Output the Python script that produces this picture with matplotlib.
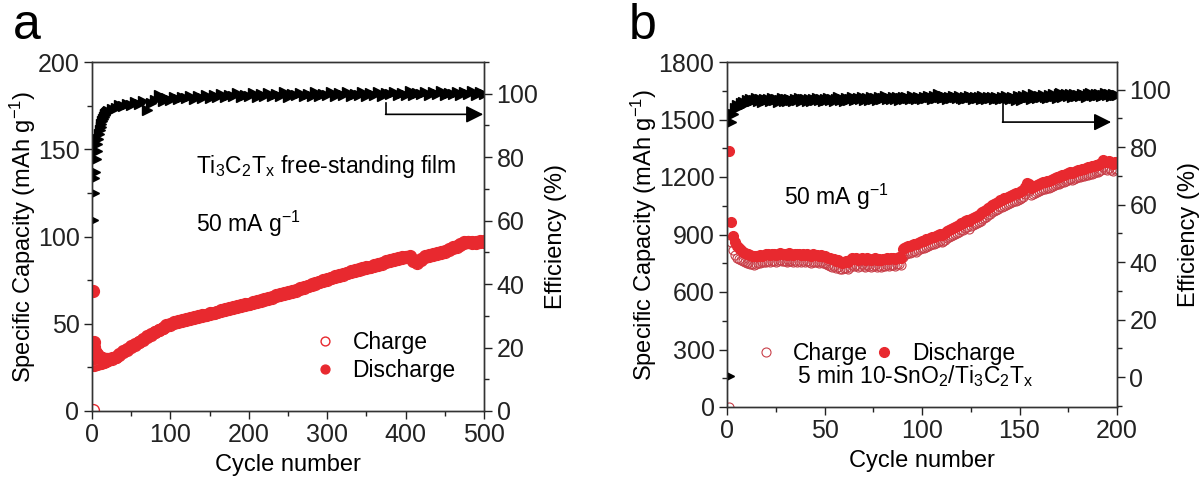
import numpy as np
import matplotlib
matplotlib.use('Agg')
import matplotlib.pyplot as plt
from matplotlib.ticker import MultipleLocator

plt.rcParams['font.family'] = ['Liberation Sans', 'DejaVu Sans']
plt.rcParams['mathtext.fontset'] = 'custom'
plt.rcParams['mathtext.rm'] = 'Liberation Sans'
plt.rcParams['mathtext.it'] = 'Liberation Sans:italic'

# ---------------- panel a: Ti3C2Tx free-standing film ----------------
cyc_a = list(range(1, 21)) + list(range(25, 501, 5))

dis_a = [68.8, 39.5, 36.5, 34.5, 33.5, 32.8, 32.2, 31.6, 31.2, 30.9,
         30.6, 30.4, 30.2, 30.0, 29.9, 29.8, 29.8, 29.8, 29.9, 30.0,
         30.4, 31.2, 32.6, 34.2, 35.6, 37.0, 38.4, 39.8, 41.4, 42.8,
         44.2, 45.5, 46.7, 47.8, 49.0, 50.0, 50.8, 51.5, 52.0, 52.6,
         53.2, 53.6, 54.2, 54.8, 55.3, 55.9, 56.4, 57.0, 57.6, 58.3,
         59.0, 59.6, 60.1, 60.6, 61.1, 61.6, 62.2, 62.8, 63.5, 64.2,
         64.8, 65.4, 66.2, 66.9, 67.5, 68.1, 68.7, 69.4, 70.3, 71.1,
         71.9, 72.7, 73.4, 74.2, 74.9, 75.7, 76.5, 77.2, 77.9, 78.6,
         79.3, 80.0, 80.7, 81.3, 81.8, 82.3, 82.8, 83.4, 84.2, 84.9,
         85.7, 86.5, 87.2, 87.8, 88.2, 88.5, 88.6, 86.3, 85.3, 87.1,
         88.7, 89.4, 90.1, 90.7, 91.2, 91.9, 92.7, 93.7, 94.7, 95.7,
         96.7, 97.1, 96.9, 97.0, 97.2, 97.4]

chg_a = [0.5, 26.5, 26.8, 27.0, 27.1, 27.2, 27.3, 27.4, 27.5, 27.6,
         27.7, 27.8, 27.9, 28.0, 28.2, 28.4, 28.6, 28.8, 29.0, 29.3,
         29.9, 30.7, 32.0, 33.7, 35.1, 36.5, 37.9, 39.3, 40.9, 42.3,
         43.7, 45.0, 46.2, 47.3, 48.5, 49.5, 50.3, 51.0, 51.5, 52.1,
         52.7, 53.1, 53.7, 54.3, 54.8, 55.4, 55.9, 56.5, 57.1, 57.8,
         58.5, 59.1, 59.6, 60.1, 60.6, 61.1, 61.7, 62.3, 63.0, 63.7,
         64.3, 64.9, 65.7, 66.4, 67.0, 67.6, 68.2, 68.9, 69.8, 70.6,
         71.4, 72.2, 72.9, 73.7, 74.4, 75.2, 76.0, 76.7, 77.4, 78.1,
         78.8, 79.5, 80.2, 80.8, 81.3, 81.8, 82.3, 82.9, 83.7, 84.4,
         85.2, 86.0, 86.7, 87.3, 87.7, 88.0, 88.1, 85.8, 84.8, 86.6,
         88.2, 88.9, 89.6, 90.2, 90.7, 91.4, 92.2, 93.2, 94.2, 95.2,
         96.2, 96.6, 96.4, 96.5, 96.7, 96.9]

eff_a = [60.3, 68.8, 73.5, 75.4, 79.5, 82.0, 84.0, 85.8, 87.3, 88.5,
         89.6, 90.5, 91.3, 92.0, 92.6, 93.2, 93.6, 94.0, 94.3, 94.6,
         95.3, 95.5, 96.4, 96.0, 96.9, 96.4, 97.4, 96.8, 97.6, 95.0,
         97.2, 98.1, 99.6, 97.7, 98.6, 98.0, 99.0, 98.2, 99.1, 98.5,
         99.3, 98.4, 99.4, 98.7, 99.6, 98.8, 99.5, 98.9, 99.8, 99.0,
         99.6, 99.2, 100.1, 99.0, 99.7, 99.3, 100.2, 99.1, 99.8, 99.4,
         100.3, 99.2, 99.9, 99.3, 100.4, 99.1, 99.8, 99.5, 100.3, 99.2,
         100.0, 99.4, 100.5, 99.3, 99.9, 99.6, 100.4, 99.2, 100.1, 99.5,
         100.6, 99.3, 100.0, 99.7, 100.5, 99.4, 100.2, 99.6, 100.7, 99.4,
         100.1, 99.8, 100.6, 99.5, 100.3, 99.7, 100.8, 99.5, 100.2, 99.9,
         100.6, 99.6, 100.4, 99.8, 100.9, 99.6, 100.3, 99.9, 100.7, 99.7,
         100.5, 99.8, 100.9, 99.7, 100.4, 100.0]

# ---------------- panel b: 5 min 10-SnO2/Ti3C2Tx ----------------
cyc_b = list(range(1, 201))

dis_b = [1336, 965, 892, 860, 842, 830, 818, 810, 805, 800,
         796, 792, 790, 788, 786, 790, 792, 789, 794, 796,
         798, 795, 800, 797, 793, 799, 802, 796, 800, 798,
         795, 801, 797, 794, 799, 796, 800, 793, 797, 795,
         798, 794, 790, 796, 792, 795, 789, 793, 790, 788,
         785, 780, 776, 770, 772, 760, 765, 755, 752, 758,
         762, 756, 768, 775, 770, 778, 765, 772, 780, 774,
         769, 776, 770, 765, 773, 778, 768, 772, 767, 774,
         770, 776, 772, 779, 775, 771, 780, 784, 778, 822,
         830, 835, 840, 838, 845, 850, 848, 856, 862, 868,
         866, 874, 878, 882, 888, 885, 893, 900, 905, 897,
         902, 910, 918, 922, 930, 936, 940, 946, 950, 958,
         962, 970, 975, 968, 980, 986, 992, 998, 1003, 1010,
         1018, 1025, 1030, 1040, 1046, 1052, 1058, 1065, 1070, 1078,
         1082, 1088, 1092, 1096, 1100, 1105, 1110, 1114, 1118, 1122,
         1126, 1132, 1150, 1168, 1162, 1145, 1150, 1155, 1160, 1164,
         1168, 1172, 1176, 1180, 1178, 1185, 1190, 1195, 1198, 1202,
         1206, 1210, 1212, 1216, 1220, 1224, 1222, 1228, 1232, 1236,
         1238, 1242, 1240, 1246, 1250, 1252, 1255, 1258, 1262, 1265,
         1268, 1272, 1290, 1280, 1276, 1283, 1275, 1270, 1280, 1278]

chg_b = [0, 860, 820, 792, 780, 772, 765, 760, 756, 752,
         750, 748, 745, 742, 748, 752, 750, 755, 757, 759,
         762, 758, 764, 760, 757, 763, 766, 760, 763, 761,
         758, 764, 760, 757, 762, 759, 763, 756, 760, 758,
         761, 757, 753, 759, 755, 758, 752, 756, 753, 750,
         747, 742, 738, 733, 735, 724, 728, 720, 718, 723,
         727, 721, 732, 739, 734, 742, 729, 736, 744, 738,
         733, 740, 734, 729, 737, 742, 732, 736, 731, 738,
         734, 740, 736, 743, 739, 735, 744, 748, 742, 785,
         793, 798, 803, 801, 808, 813, 811, 819, 825, 831,
         829, 837, 841, 845, 851, 848, 856, 863, 868, 860,
         865, 873, 881, 885, 893, 899, 903, 909, 913, 921,
         925, 933, 938, 931, 943, 949, 955, 961, 966, 973,
         981, 988, 993, 1003, 1009, 1015, 1021, 1028, 1033, 1041,
         1045, 1051, 1055, 1059, 1063, 1068, 1073, 1077, 1081, 1085,
         1089, 1095, 1112, 1130, 1125, 1108, 1113, 1118, 1123, 1127,
         1131, 1135, 1139, 1143, 1141, 1148, 1153, 1158, 1161, 1165,
         1169, 1173, 1175, 1179, 1183, 1187, 1185, 1191, 1195, 1199,
         1201, 1205, 1203, 1209, 1213, 1215, 1218, 1221, 1225, 1228,
         1231, 1235, 1252, 1243, 1239, 1246, 1238, 1233, 1243, 1241]

eff_b = [0.3, 88.7, 91.5, 93.5, 94.5, 93.8, 95.2, 95.8, 94.9, 96.3,
         95.6, 96.8, 95.9, 96.5, 97.1, 96.0, 96.7, 95.8, 96.9, 96.3,
         96.6, 95.9, 97.0, 96.4, 96.8, 95.8, 96.5, 97.1, 96.2, 96.7,
         96.0, 96.9, 96.4, 95.9, 96.8, 96.3, 97.0, 96.1, 96.6, 96.9,
         96.2, 96.7, 96.0, 96.8, 96.4, 97.1, 96.3, 96.6, 95.9, 96.8,
         96.5, 97.2, 96.3, 96.9, 96.1, 96.7, 97.3, 96.4, 96.8, 96.2,
         97.0, 96.5, 96.9, 97.4, 96.3, 96.8, 97.1, 96.6, 97.5, 96.4,
         96.9, 97.2, 96.5, 97.6, 96.8, 97.0, 96.3, 97.4, 96.7, 97.1,
         97.7, 96.6, 97.2, 96.9, 97.5, 96.8, 97.3, 96.5, 97.0, 97.6,
         96.9, 97.4, 97.0, 96.7, 97.8, 97.1, 96.8, 97.5, 97.2, 96.9,
         97.6, 97.0, 97.9, 97.3, 96.9, 97.7, 97.2, 98.6, 97.4, 97.0,
         97.8, 97.3, 96.8, 97.6, 97.1, 97.9, 97.4, 97.0, 97.7, 97.2,
         96.9, 97.5, 97.1, 97.8, 97.3, 96.8, 97.6, 97.0, 97.4, 96.9,
         97.7, 97.2, 96.7, 97.5, 97.0, 97.3, 96.8, 97.6, 97.1, 96.9,
         97.4, 97.0, 97.7, 97.2, 96.8, 97.5, 97.1, 96.3, 97.8, 97.3,
         96.5, 97.9, 97.2, 98.1, 97.4, 96.7, 98.3, 97.5, 97.0, 97.9,
         97.3, 98.2, 97.6, 97.1, 98.0, 97.4, 98.5, 97.7, 97.2, 98.3,
         98.8, 97.6, 98.1, 98.6, 97.8, 98.3, 97.5, 98.4, 97.9, 98.2,
         97.7, 98.5, 98.0, 97.6, 98.3, 98.9, 98.1, 97.8, 98.4, 98.0,
         98.6, 97.9, 98.2, 98.7, 98.0, 98.4, 97.8, 98.3, 98.1, 98.0]

red = '#e8292f'
red_edge = '#c9404a'
spine_col = '#333333'
FS_TICK = 18
FS_LAB = 17
FS_TXT = 16.5

fig = plt.figure(figsize=(12.04, 4.91), dpi=100)


def style(ax, ax2):
    for a in (ax, ax2):
        for s in a.spines.values():
            s.set_color(spine_col)
            s.set_linewidth(1.0)
    ax.tick_params(axis='both', which='major', direction='out', length=6,
                   width=1, labelsize=FS_TICK, colors='#222222', pad=3)
    ax.tick_params(axis='both', which='minor', direction='out', length=3.5,
                   width=1, colors='#222222')
    ax2.tick_params(axis='y', which='major', direction='out', length=6,
                    width=1, labelsize=FS_TICK, colors='#222222', pad=3)
    ax2.tick_params(axis='y', which='minor', direction='out', length=3.5,
                    width=1, colors='#222222')
    ax.set_xlabel('Cycle number', fontsize=FS_LAB, labelpad=5)
    ax.set_ylabel('Specific Capacity (mAh g$^{\\mathregular{-1}}$)',
                  fontsize=FS_LAB, labelpad=-0.5)
    ax2.set_ylabel('Efficiency (%)', fontsize=FS_LAB, labelpad=5)


# ---- panel a ----
axa = fig.add_axes([92 / 1204, 1 - 411 / 491, 392 / 1204, 349 / 491])
axa2 = axa.twinx()
axa.plot(cyc_a, chg_a, 'o', ms=8.5, mfc='none', mec=red, mew=1.0,
         label='Charge', zorder=2)
axa.plot(cyc_a, dis_a, 'o', ms=8.5, color=red, mec=red, label='Discharge',
         zorder=3)
axa2.plot(cyc_a, eff_a, '>', ms=7.5, color='black', mec='black')
axa.set_xlim(0, 500)
axa.set_ylim(0, 200)
axa2.set_ylim(0, 110)
axa.xaxis.set_major_locator(MultipleLocator(100))
axa.xaxis.set_minor_locator(MultipleLocator(50))
axa.yaxis.set_major_locator(MultipleLocator(50))
axa.yaxis.set_minor_locator(MultipleLocator(25))
axa2.yaxis.set_major_locator(MultipleLocator(20))
axa2.yaxis.set_minor_locator(MultipleLocator(10))
style(axa, axa2)
axa2.set_yticks([0, 20, 40, 60, 80, 100])
axa2.plot([375, 375], [97.2, 93.5], color='black', lw=1.2)
axa2.annotate('', xy=(499, 93.5), xytext=(374.5, 93.5),
              arrowprops=dict(arrowstyle='-|>', color='black', lw=1.2,
                              mutation_scale=26, shrinkA=0, shrinkB=0))
axa.text(0.265, 0.7, r'Ti$_{\mathregular{3}}$C$_{\mathregular{2}}$T$_{\mathregular{x}}$ free-standing film',
         transform=axa.transAxes, fontsize=FS_TXT, va='center')
axa.text(0.265, 0.535, r'50 mA g$^{\mathregular{-1}}$', transform=axa.transAxes,
         fontsize=FS_TXT, va='center')
axa.legend(loc='upper left', bbox_to_anchor=(0.53, 0.262), frameon=False,
           fontsize=FS_TXT, handletextpad=0.6, labelspacing=0.22,
           handlelength=1.2, borderpad=0, markerscale=0.75)
fig.text(0.011, 1 - 39 / 491, 'a', fontsize=36, va='baseline')

# ---- panel b ----
axb = fig.add_axes([727 / 1204, 1 - 407 / 491, 390 / 1204, 345 / 491])
axb2 = axb.twinx()
axb.plot(cyc_b, chg_b, 'o', ms=6.5, mfc='none', mec=red_edge, mew=0.8,
         label='Charge', zorder=2)
axb.plot(cyc_b, dis_b, 'o', ms=7.0, color=red, mec=red, label='Discharge',
         zorder=3)
axb2.plot(cyc_b, eff_b, '>', ms=6.5, color='black', mec='black')
axb.set_xlim(0, 200)
axb.set_ylim(0, 1800)
axb2.set_ylim(-10.4, 109.6)
axb.xaxis.set_major_locator(MultipleLocator(50))
axb.xaxis.set_minor_locator(MultipleLocator(25))
axb.yaxis.set_major_locator(MultipleLocator(300))
axb.yaxis.set_minor_locator(MultipleLocator(150))
axb2.yaxis.set_major_locator(MultipleLocator(20))
axb2.yaxis.set_minor_locator(MultipleLocator(10))
style(axb, axb2)
axb2.set_yticks([0, 20, 40, 60, 80, 100])
axb2.plot([141.5, 141.5], [96.3, 88.7], color='black', lw=1.2)
axb2.annotate('', xy=(197, 88.7), xytext=(141.3, 88.7),
              arrowprops=dict(arrowstyle='-|>', color='black', lw=1.2,
                              mutation_scale=26, shrinkA=0, shrinkB=0))
axb.text(0.145, 0.61, r'50 mA g$^{\mathregular{-1}}$', transform=axb.transAxes,
         fontsize=FS_TXT, va='center')
axb.legend(loc='upper left', bbox_to_anchor=(0.035, 0.222), frameon=False,
           fontsize=FS_TXT, ncol=2, handletextpad=0.6, columnspacing=0.1,
           handlelength=1.2, borderpad=0, markerscale=1.0)
axb.text(0.18, 0.09,
         r'5 min 10-SnO$_{\mathregular{2}}$/Ti$_{\mathregular{3}}$C$_{\mathregular{2}}$T$_{\mathregular{x}}$',
         transform=axb.transAxes, fontsize=FS_TXT, va='center')
fig.text(0.522, 1 - 39 / 491, 'b', fontsize=36, va='baseline')

fig.savefig('out.png', dpi=100)
